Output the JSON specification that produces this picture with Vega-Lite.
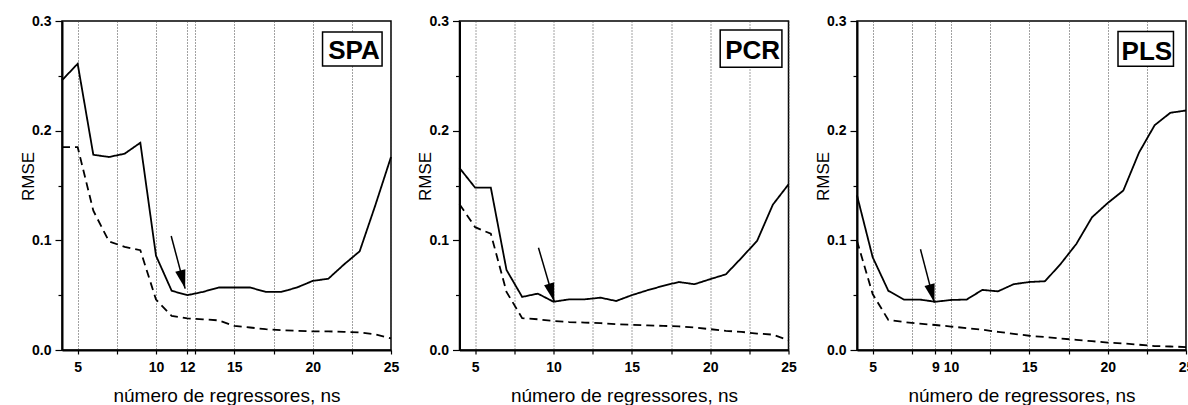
{
"$schema":"https://vega.github.io/schema/vega-lite/v6.json",
"background":"white",
"padding":{"left":18,"top":13,"right":0,"bottom":0},
"bounds":"flush",
"spacing":68.5,
"datasets":{
"rmse":[
{"metodo":"SPA","curva":"validação","ns":4,"rmse":0.246},{"metodo":"SPA","curva":"validação","ns":5,"rmse":0.261},{"metodo":"SPA","curva":"validação","ns":6,"rmse":0.178},{"metodo":"SPA","curva":"validação","ns":7,"rmse":0.176},{"metodo":"SPA","curva":"validação","ns":8,"rmse":0.179},{"metodo":"SPA","curva":"validação","ns":9,"rmse":0.189},{"metodo":"SPA","curva":"validação","ns":10,"rmse":0.086},{"metodo":"SPA","curva":"validação","ns":11,"rmse":0.054},{"metodo":"SPA","curva":"validação","ns":12,"rmse":0.050},{"metodo":"SPA","curva":"validação","ns":13,"rmse":0.053},{"metodo":"SPA","curva":"validação","ns":14,"rmse":0.057},{"metodo":"SPA","curva":"validação","ns":15,"rmse":0.057},{"metodo":"SPA","curva":"validação","ns":16,"rmse":0.057},{"metodo":"SPA","curva":"validação","ns":17,"rmse":0.053},{"metodo":"SPA","curva":"validação","ns":18,"rmse":0.053},{"metodo":"SPA","curva":"validação","ns":19,"rmse":0.057},{"metodo":"SPA","curva":"validação","ns":20,"rmse":0.063},{"metodo":"SPA","curva":"validação","ns":21,"rmse":0.065},{"metodo":"SPA","curva":"validação","ns":22,"rmse":0.078},{"metodo":"SPA","curva":"validação","ns":23,"rmse":0.090},{"metodo":"SPA","curva":"validação","ns":24,"rmse":0.132},{"metodo":"SPA","curva":"validação","ns":25,"rmse":0.176},
{"metodo":"SPA","curva":"calibração","ns":4,"rmse":0.185},{"metodo":"SPA","curva":"calibração","ns":5,"rmse":0.185},{"metodo":"SPA","curva":"calibração","ns":6,"rmse":0.127},{"metodo":"SPA","curva":"calibração","ns":7,"rmse":0.099},{"metodo":"SPA","curva":"calibração","ns":8,"rmse":0.094},{"metodo":"SPA","curva":"calibração","ns":9,"rmse":0.091},{"metodo":"SPA","curva":"calibração","ns":10,"rmse":0.046},{"metodo":"SPA","curva":"calibração","ns":11,"rmse":0.031},{"metodo":"SPA","curva":"calibração","ns":12,"rmse":0.0288},{"metodo":"SPA","curva":"calibração","ns":13,"rmse":0.028},{"metodo":"SPA","curva":"calibração","ns":14,"rmse":0.027},{"metodo":"SPA","curva":"calibração","ns":15,"rmse":0.022},{"metodo":"SPA","curva":"calibração","ns":16,"rmse":0.0205},{"metodo":"SPA","curva":"calibração","ns":17,"rmse":0.019},{"metodo":"SPA","curva":"calibração","ns":18,"rmse":0.018},{"metodo":"SPA","curva":"calibração","ns":19,"rmse":0.0175},{"metodo":"SPA","curva":"calibração","ns":20,"rmse":0.017},{"metodo":"SPA","curva":"calibração","ns":21,"rmse":0.017},{"metodo":"SPA","curva":"calibração","ns":22,"rmse":0.0165},{"metodo":"SPA","curva":"calibração","ns":23,"rmse":0.016},{"metodo":"SPA","curva":"calibração","ns":24,"rmse":0.0143},{"metodo":"SPA","curva":"calibração","ns":25,"rmse":0.0105},
{"metodo":"PCR","curva":"validação","ns":4,"rmse":0.166},{"metodo":"PCR","curva":"validação","ns":5,"rmse":0.148},{"metodo":"PCR","curva":"validação","ns":6,"rmse":0.148},{"metodo":"PCR","curva":"validação","ns":7,"rmse":0.073},{"metodo":"PCR","curva":"validação","ns":8,"rmse":0.0484},{"metodo":"PCR","curva":"validação","ns":9,"rmse":0.0514},{"metodo":"PCR","curva":"validação","ns":10,"rmse":0.044},{"metodo":"PCR","curva":"validação","ns":11,"rmse":0.0462},{"metodo":"PCR","curva":"validação","ns":12,"rmse":0.0462},{"metodo":"PCR","curva":"validação","ns":13,"rmse":0.0477},{"metodo":"PCR","curva":"validação","ns":14,"rmse":0.0447},{"metodo":"PCR","curva":"validação","ns":15,"rmse":0.050},{"metodo":"PCR","curva":"validação","ns":16,"rmse":0.0545},{"metodo":"PCR","curva":"validação","ns":17,"rmse":0.0585},{"metodo":"PCR","curva":"validação","ns":18,"rmse":0.062},{"metodo":"PCR","curva":"validação","ns":19,"rmse":0.060},{"metodo":"PCR","curva":"validação","ns":20,"rmse":0.0646},{"metodo":"PCR","curva":"validação","ns":21,"rmse":0.069},{"metodo":"PCR","curva":"validação","ns":22,"rmse":0.084},{"metodo":"PCR","curva":"validação","ns":23,"rmse":0.0996},{"metodo":"PCR","curva":"validação","ns":24,"rmse":0.1325},{"metodo":"PCR","curva":"validação","ns":25,"rmse":0.151},
{"metodo":"PCR","curva":"calibração","ns":4,"rmse":0.133},{"metodo":"PCR","curva":"calibração","ns":5,"rmse":0.112},{"metodo":"PCR","curva":"calibração","ns":6,"rmse":0.106},{"metodo":"PCR","curva":"calibração","ns":7,"rmse":0.053},{"metodo":"PCR","curva":"calibração","ns":8,"rmse":0.029},{"metodo":"PCR","curva":"calibração","ns":9,"rmse":0.028},{"metodo":"PCR","curva":"calibração","ns":10,"rmse":0.0265},{"metodo":"PCR","curva":"calibração","ns":11,"rmse":0.0255},{"metodo":"PCR","curva":"calibração","ns":12,"rmse":0.025},{"metodo":"PCR","curva":"calibração","ns":13,"rmse":0.0245},{"metodo":"PCR","curva":"calibração","ns":14,"rmse":0.0235},{"metodo":"PCR","curva":"calibração","ns":15,"rmse":0.023},{"metodo":"PCR","curva":"calibração","ns":16,"rmse":0.0225},{"metodo":"PCR","curva":"calibração","ns":17,"rmse":0.022},{"metodo":"PCR","curva":"calibração","ns":18,"rmse":0.0215},{"metodo":"PCR","curva":"calibração","ns":19,"rmse":0.0205},{"metodo":"PCR","curva":"calibração","ns":20,"rmse":0.019},{"metodo":"PCR","curva":"calibração","ns":21,"rmse":0.0175},{"metodo":"PCR","curva":"calibração","ns":22,"rmse":0.0165},{"metodo":"PCR","curva":"calibração","ns":23,"rmse":0.015},{"metodo":"PCR","curva":"calibração","ns":24,"rmse":0.014},{"metodo":"PCR","curva":"calibração","ns":25,"rmse":0.009},
{"metodo":"PLS","curva":"validação","ns":4,"rmse":0.141},{"metodo":"PLS","curva":"validação","ns":5,"rmse":0.0846},{"metodo":"PLS","curva":"validação","ns":6,"rmse":0.054},{"metodo":"PLS","curva":"validação","ns":7,"rmse":0.046},{"metodo":"PLS","curva":"validação","ns":8,"rmse":0.046},{"metodo":"PLS","curva":"validação","ns":9,"rmse":0.044},{"metodo":"PLS","curva":"validação","ns":10,"rmse":0.0456},{"metodo":"PLS","curva":"validação","ns":11,"rmse":0.046},{"metodo":"PLS","curva":"validação","ns":12,"rmse":0.0548},{"metodo":"PLS","curva":"validação","ns":13,"rmse":0.0535},{"metodo":"PLS","curva":"validação","ns":14,"rmse":0.060},{"metodo":"PLS","curva":"validação","ns":15,"rmse":0.062},{"metodo":"PLS","curva":"validação","ns":16,"rmse":0.0627},{"metodo":"PLS","curva":"validação","ns":17,"rmse":0.0785},{"metodo":"PLS","curva":"validação","ns":18,"rmse":0.0967},{"metodo":"PLS","curva":"validação","ns":19,"rmse":0.121},{"metodo":"PLS","curva":"validação","ns":20,"rmse":0.134},{"metodo":"PLS","curva":"validação","ns":21,"rmse":0.1454},{"metodo":"PLS","curva":"validação","ns":22,"rmse":0.180},{"metodo":"PLS","curva":"validação","ns":23,"rmse":0.205},{"metodo":"PLS","curva":"validação","ns":24,"rmse":0.2163},{"metodo":"PLS","curva":"validação","ns":25,"rmse":0.2184},
{"metodo":"PLS","curva":"calibração","ns":4,"rmse":0.0995},{"metodo":"PLS","curva":"calibração","ns":5,"rmse":0.051},{"metodo":"PLS","curva":"calibração","ns":6,"rmse":0.0274},{"metodo":"PLS","curva":"calibração","ns":7,"rmse":0.0255},{"metodo":"PLS","curva":"calibração","ns":8,"rmse":0.024},{"metodo":"PLS","curva":"calibração","ns":9,"rmse":0.0228},{"metodo":"PLS","curva":"calibração","ns":10,"rmse":0.0214},{"metodo":"PLS","curva":"calibração","ns":11,"rmse":0.020},{"metodo":"PLS","curva":"calibração","ns":12,"rmse":0.0185},{"metodo":"PLS","curva":"calibração","ns":13,"rmse":0.0165},{"metodo":"PLS","curva":"calibração","ns":14,"rmse":0.0148},{"metodo":"PLS","curva":"calibração","ns":15,"rmse":0.013},{"metodo":"PLS","curva":"calibração","ns":16,"rmse":0.0118},{"metodo":"PLS","curva":"calibração","ns":17,"rmse":0.0105},{"metodo":"PLS","curva":"calibração","ns":18,"rmse":0.0093},{"metodo":"PLS","curva":"calibração","ns":19,"rmse":0.008},{"metodo":"PLS","curva":"calibração","ns":20,"rmse":0.0068},{"metodo":"PLS","curva":"calibração","ns":21,"rmse":0.006},{"metodo":"PLS","curva":"calibração","ns":22,"rmse":0.0048},{"metodo":"PLS","curva":"calibração","ns":23,"rmse":0.0036},{"metodo":"PLS","curva":"calibração","ns":24,"rmse":0.0032},{"metodo":"PLS","curva":"calibração","ns":25,"rmse":0.0027}
]},
"config":{
"font":"Liberation Sans",
"view":{"stroke":"black","strokeWidth":1.5},
"axis":{"domainColor":"black","domainWidth":2,"tickColor":"black","tickWidth":1.2,"labelColor":"black","labelFont":"Liberation Sans","labelFontSize":14,"labelFontWeight":"bold","titleColor":"black","titleFont":"Liberation Sans","titleFontWeight":"normal","labelFlush":false,"labelOverlap":false,"labelBound":false},
"axisX":{"grid":true,"gridDash":[1,2],"gridColor":"#444444","gridWidth":1,"tickSize":4,"labelPadding":6,"titleFontSize":19,"titleBaseline":"alphabetic","titleY":51},
"axisY":{"grid":false,"labelPadding":4,"titleFontSize":17,"titleAngle":-90,"titleBaseline":"alphabetic","titleX":-29,"titleY":155,"titleAlign":"center"}
},
"hconcat":[
{"width":329,"height":329,"layer":[
{"data":{"name":"rmse"},"transform":[{"filter":"datum.metodo == 'SPA'"}],"mark":{"type":"line","color":"black","strokeWidth":1.8},
"encoding":{"x":{"field":"ns","type":"quantitative","scale":{"domain":[4,25],"nice":false,"zero":false},"axis":{"values":[5,7.5,10,12,12.5,15,17.5,20,22.5,25],"tickCount":40,"labelOverlap":false,"labelExpr":"datum.value % 1 != 0 ? '' : format(datum.value, 'd')","title":"número de regressores, ns"}},
"y":{"field":"rmse","type":"quantitative","scale":{"domain":[0,0.3],"nice":false},"axis":{"title":"RMSE","tickCount":40,"labelOverlap":false,"values":[0,0.05,0.1,0.15,0.2,0.25,0.3],"labelExpr":"abs(datum.value*10 - round(datum.value*10)) < 0.001 ? format(datum.value, '.1f') : ''","tickSize":{"condition":{"test":"abs(datum.value*10 - round(datum.value*10)) < 0.001","value":7},"value":4}}},
"detail":{"field":"curva"},
"strokeDash":{"field":"curva","type":"nominal","scale":{"domain":["validação","calibração"],"range":[[1,0],[8,5]]},"legend":null}}},
{"data":{"values":[{}]},"mark":{"type":"rule","color":"black","strokeWidth":1.5},"encoding":{"x":{"datum":10.97},"y":{"datum":0.104},"x2":{"datum":11.86},"y2":{"datum":0.056}}},
{"data":{"values":[{}]},"mark":{"type":"point","shape":"M0,0L-0.28,-1L0.28,-1Z","filled":true,"color":"black","opacity":1,"size":1400,"angle":345,"strokeWidth":0},"encoding":{"x":{"datum":11.86},"y":{"datum":0.056}}},
{"data":{"values":[{}]},"mark":{"type":"rect","fill":"white","stroke":"black","strokeWidth":1.5},"encoding":{"x":{"datum":20.63},"x2":{"datum":24.43},"y":{"datum":0.29},"y2":{"datum":0.259}}},
{"data":{"values":[{"rotulo":"SPA"}]},"mark":{"type":"text","font":"Liberation Sans","fontSize":26,"fontWeight":"bold","align":"center","baseline":"alphabetic","color":"black"},"encoding":{"text":{"field":"rotulo"},"x":{"datum":22.64},"y":{"datum":0.2652}}}
]},
{"width":329,"height":329,"layer":[
{"data":{"name":"rmse"},"transform":[{"filter":"datum.metodo == 'PCR'"}],"mark":{"type":"line","color":"black","strokeWidth":1.8},
"encoding":{"x":{"field":"ns","type":"quantitative","scale":{"domain":[4,25],"nice":false,"zero":false},"axis":{"values":[5,7.5,10,12.5,15,17.5,20,22.5,25],"tickCount":40,"labelOverlap":false,"labelExpr":"datum.value % 1 != 0 ? '' : format(datum.value, 'd')","title":"número de regressores, ns"}},
"y":{"field":"rmse","type":"quantitative","scale":{"domain":[0,0.3],"nice":false},"axis":{"title":"RMSE","tickCount":40,"labelOverlap":false,"values":[0,0.05,0.1,0.15,0.2,0.25,0.3],"labelExpr":"abs(datum.value*10 - round(datum.value*10)) < 0.001 ? format(datum.value, '.1f') : ''","tickSize":{"condition":{"test":"abs(datum.value*10 - round(datum.value*10)) < 0.001","value":7},"value":4}}},
"detail":{"field":"curva"},
"strokeDash":{"field":"curva","type":"nominal","scale":{"domain":["validação","calibração"],"range":[[1,0],[8,5]]},"legend":null}}},
{"data":{"values":[{}]},"mark":{"type":"rule","color":"black","strokeWidth":1.5},"encoding":{"x":{"datum":9.04},"y":{"datum":0.0933},"x2":{"datum":10.05},"y2":{"datum":0.044}}},
{"data":{"values":[{}]},"mark":{"type":"point","shape":"M0,0L-0.28,-1L0.28,-1Z","filled":true,"color":"black","opacity":1,"size":1400,"angle":344,"strokeWidth":0},"encoding":{"x":{"datum":10.05},"y":{"datum":0.044}}},
{"data":{"values":[{}]},"mark":{"type":"rect","fill":"white","stroke":"black","strokeWidth":1.5},"encoding":{"x":{"datum":20.64},"x2":{"datum":24.58},"y":{"datum":0.2917},"y2":{"datum":0.2578}}},
{"data":{"values":[{"rotulo":"PCR"}]},"mark":{"type":"text","font":"Liberation Sans","fontSize":26,"fontWeight":"bold","align":"center","baseline":"alphabetic","color":"black"},"encoding":{"text":{"field":"rotulo"},"x":{"datum":22.71},"y":{"datum":0.2658}}}
]},
{"width":329,"height":329,"layer":[
{"data":{"name":"rmse"},"transform":[{"filter":"datum.metodo == 'PLS'"}],"mark":{"type":"line","color":"black","strokeWidth":1.8},
"encoding":{"x":{"field":"ns","type":"quantitative","scale":{"domain":[4,25],"nice":false,"zero":false},"axis":{"values":[5,7.5,9,10,12.5,15,17.5,20,22.5,25],"tickCount":40,"labelOverlap":false,"labelExpr":"datum.value % 1 != 0 ? '' : format(datum.value, 'd')","title":"número de regressores, ns"}},
"y":{"field":"rmse","type":"quantitative","scale":{"domain":[0,0.3],"nice":false},"axis":{"title":"RMSE","tickCount":40,"labelOverlap":false,"values":[0,0.05,0.1,0.15,0.2,0.25,0.3],"labelExpr":"abs(datum.value*10 - round(datum.value*10)) < 0.001 ? format(datum.value, '.1f') : ''","tickSize":{"condition":{"test":"abs(datum.value*10 - round(datum.value*10)) < 0.001","value":7},"value":4}}},
"detail":{"field":"curva"},
"strokeDash":{"field":"curva","type":"nominal","scale":{"domain":["validação","calibração"],"range":[[1,0],[8,5]]},"legend":null}}},
{"data":{"values":[{}]},"mark":{"type":"rule","color":"black","strokeWidth":1.5},"encoding":{"x":{"datum":8.05},"y":{"datum":0.0919},"x2":{"datum":8.94},"y2":{"datum":0.0432}}},
{"data":{"values":[{}]},"mark":{"type":"point","shape":"M0,0L-0.28,-1L0.28,-1Z","filled":true,"color":"black","opacity":1,"size":1400,"angle":345,"strokeWidth":0},"encoding":{"x":{"datum":8.94},"y":{"datum":0.0432}}},
{"data":{"values":[{}]},"mark":{"type":"rect","fill":"white","stroke":"black","strokeWidth":1.5},"encoding":{"x":{"datum":20.66},"x2":{"datum":24.2},"y":{"datum":0.2904},"y2":{"datum":0.2588}}},
{"data":{"values":[{"rotulo":"PLS"}]},"mark":{"type":"text","font":"Liberation Sans","fontSize":26,"fontWeight":"bold","align":"center","baseline":"alphabetic","color":"black"},"encoding":{"text":{"field":"rotulo"},"x":{"datum":22.5},"y":{"datum":0.2646}}}
]}
]
}
